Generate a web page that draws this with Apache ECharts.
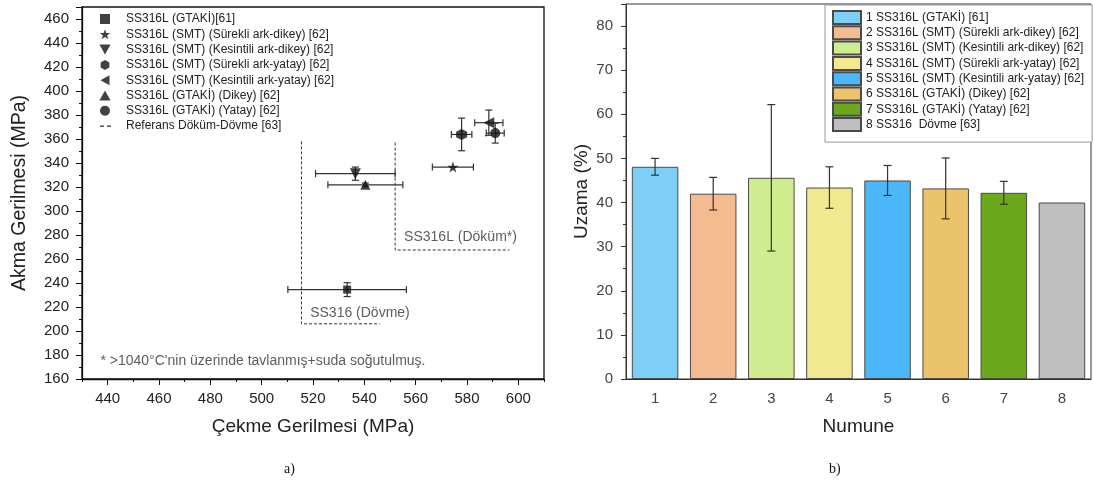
<!DOCTYPE html>
<html>
<head>
<meta charset="utf-8">
<script src="https://cdn.jsdelivr.net/npm/echarts@6/dist/echarts.min.js"></script>
<style>
html,body{margin:0;padding:0;background:#fff;}
#main{width:1093px;height:490px;}
</style>
</head>
<body>
<div id="main"></div>
<script>
// a) cekme - akma gerilmesi
var seriesNames = [
    'SS316L (GTAKİ)[61]',
    'SS316L (SMT) (Sürekli ark-dikey) [62]',
    'SS316L (SMT) (Kesintili ark-dikey) [62]',
    'SS316L (SMT) (Sürekli ark-yatay) [62]',
    'SS316L (SMT) (Kesintili ark-yatay) [62]',
    'SS316L (GTAKİ) (Dikey) [62]',
    'SS316L (GTAKİ) (Yatay) [62]'
];
var tensile    = [533.3, 574.5, 536.5, 577.9, 588.5, 540.4, 591.0];
var tensileErr = [23.1, 8.0, 15.5, 4.0, 5.5, 14.6, 3.5];
var yieldStr   = [234.5, 336.6, 331.1, 363.8, 373.6, 321.8, 364.9];
var yieldErr   = [5.8, 0, 5.5, 13.6, 10.5, 1.5, 8.3];

var refName  = 'Referans Döküm-Dövme [63]';
var dovmeRef = [[515.5, 358], [515.5, 206], [546, 206]];
var dokumRef = [[552, 357], [552, 267.5], [596.5, 267.5]];
var notes = [
    {name: 'SS316L (Döküm*)', value: [555.3, 278.4]},
    {name: 'SS316 (Dövme)', value: [518.7, 215.2]},
    {name: "* >1040°C'nin üzerinde tavlanmış+suda soğutulmuş.", value: [437, 174.5]}
];

// b) uzama
var sampleNo = ['1', '2', '3', '4', '5', '6', '7', '8'];
var sampleNames = [
    '1 SS316L (GTAKİ) [61]',
    '2 SS316L (SMT) (Sürekli ark-dikey) [62]',
    '3 SS316L (SMT) (Kesintili ark-dikey) [62]',
    '4 SS316L (SMT) (Sürekli ark-yatay) [62]',
    '5 SS316L (SMT) (Kesintili ark-yatay) [62]',
    '6 SS316L (GTAKİ) (Dikey) [62]',
    '7 SS316L (GTAKİ) (Yatay) [62]',
    '8 SS316  Dövme [63]'
];
var elongation = [48.1, 42.0, 45.6, 43.4, 45.0, 43.2, 42.2, 40.0];
var elongErr   = [1.9, 3.7, 16.6, 4.7, 3.4, 6.9, 2.6, 0];
var barColors  = ['#7ecff8', '#f5bb90', '#cfec8e', '#f1e88f', '#4bb6f9', '#eac36b', '#6ba81b', '#bfbfbf'];

var FONT = '"Liberation Sans", Arial, sans-serif';

var markers = [
    'path://M0,0h9v9h-9z',
    'path://M0,-10L2.35,-3.24L9.51,-3.09L3.8,1.24L5.88,8.09L0,4L-5.88,8.09L-3.8,1.24L-9.51,-3.09L-2.35,-3.24Z',
    'path://M0,0L10,0L5,9Z',
    'path://M5,0L9.33,2.5L9.33,7.5L5,10L0.67,7.5L0.67,2.5Z',
    'path://M0,5L9,0L9,10Z',
    'path://M5,0L10,9L0,9Z',
    'circle'
];
var markerSizes = [8, 11, 11, 11, 11, 10, 10];
var dashIcon = 'path://M0,0M32,10M11,4.4h4v1.2h-4zM18,4.4h4v1.2h-4z';

var chart = echarts.init(document.getElementById('main'));

function xyErrorBars(params, api) {
    var x = api.value(0), y = api.value(1), ex = api.value(2), ey = api.value(3);
    var c = api.coord([x, y]);
    var st = {stroke: '#333', lineWidth: 1.2};
    var cap = 3.5, kids = [];
    if (ex > 0) {
        var l = api.coord([x - ex, y])[0], r = api.coord([x + ex, y])[0];
        kids.push({type: 'line', shape: {x1: l, y1: c[1], x2: r, y2: c[1]}, style: st});
        kids.push({type: 'line', shape: {x1: l, y1: c[1] - cap, x2: l, y2: c[1] + cap}, style: st});
        kids.push({type: 'line', shape: {x1: r, y1: c[1] - cap, x2: r, y2: c[1] + cap}, style: st});
    }
    if (ey > 0) {
        var t = api.coord([x, y + ey])[1], b = api.coord([x, y - ey])[1];
        kids.push({type: 'line', shape: {x1: c[0], y1: t, x2: c[0], y2: b}, style: st});
        kids.push({type: 'line', shape: {x1: c[0] - cap, y1: t, x2: c[0] + cap, y2: t}, style: st});
        kids.push({type: 'line', shape: {x1: c[0] - cap, y1: b, x2: c[0] + cap, y2: b}, style: st});
    }
    return {type: 'group', children: kids};
}

function barErrorBars(params, api) {
    var i = api.value(0), v = api.value(1), e = api.value(2);
    if (!e) return null;
    var t = api.coord([i, v + e]), b = api.coord([i, v - e]);
    var st = {stroke: '#333', lineWidth: 1.2};
    var cap = 4;
    return {type: 'group', children: [
        {type: 'line', shape: {x1: t[0], y1: t[1], x2: b[0], y2: b[1]}, style: st},
        {type: 'line', shape: {x1: t[0] - cap, y1: t[1], x2: t[0] + cap, y2: t[1]}, style: st},
        {type: 'line', shape: {x1: b[0] - cap, y1: b[1], x2: b[0] + cap, y2: b[1]}, style: st}
    ]};
}

var series = [];
seriesNames.forEach(function (name, i) {
    series.push({
        name: name, type: 'scatter', xAxisIndex: 0, yAxisIndex: 0,
        symbol: markers[i], symbolSize: markerSizes[i],
        itemStyle: {color: '#111'}, z: 5,
        data: [[tensile[i], yieldStr[i]]]
    });
});
series.push({
    type: 'custom', name: 'errA', xAxisIndex: 0, yAxisIndex: 0,
    renderItem: xyErrorBars, encode: {x: 0, y: 1}, z: 4,
    data: tensile.map(function (t, i) { return [t, yieldStr[i], tensileErr[i], yieldErr[i]]; })
});
[dovmeRef, dokumRef].forEach(function (ref) {
    series.push({
        name: refName, type: 'line', xAxisIndex: 0, yAxisIndex: 0,
        symbol: 'none', silent: true,
        lineStyle: {color: '#333', width: 1, type: [3, 2]},
        itemStyle: {color: '#333'},
        data: ref
    });
});
series.push({
    name: 'notes', type: 'scatter', xAxisIndex: 0, yAxisIndex: 0,
    symbolSize: 1, itemStyle: {color: 'rgba(0,0,0,0)'}, silent: true,
    label: {
        show: true, position: 'right', distance: 0,
        formatter: '{b}', color: '#333', fontFamily: FONT, fontSize: 14
    },
    data: notes
});

sampleNames.forEach(function (name, i) {
    series.push({
        name: name, type: 'bar', xAxisIndex: 1, yAxisIndex: 1,
        stack: 'uzama', barWidth: '80%',
        itemStyle: {color: barColors[i], borderColor: '#4a4a4a', borderWidth: 1},
        data: elongation.map(function (v, j) { return j === i ? v : '-'; })
    });
});
series.push({
    type: 'custom', name: 'errB', xAxisIndex: 1, yAxisIndex: 1,
    renderItem: barErrorBars, encode: {x: 0, y: 1}, z: 10,
    data: elongation.map(function (v, i) { return [i, v, elongErr[i]]; })
});

var leftLegendData = seriesNames.map(function (n, i) {
    return {name: n, icon: markers[i]};
});
leftLegendData.push({name: refName, icon: dashIcon});

var option = {
    animation: false,
    textStyle: {fontFamily: FONT},
    grid: [
        {left: 82, right: 549, top: 7, bottom: 111, show: true, borderColor: '#111', borderWidth: 1.3},
        {left: 626, right: 2, top: 4, bottom: 111, show: true, borderColor: '#333', borderWidth: 1}
    ],
    legend: [{
        data: leftLegendData,
        orient: 'vertical', left: 89, top: 13, padding: 0,
        itemWidth: 32, itemHeight: 10, itemGap: 3.3,
        selectedMode: false,
        textStyle: {fontSize: 12, lineHeight: 12, color: '#222', fontFamily: FONT}
    }, {
        data: sampleNames.map(function (n) { return {name: n, icon: 'rect'}; }),
        orient: 'vertical', left: 825, top: 5, padding: [5, 8, 10, 7],
        itemWidth: 28, itemHeight: 13, itemGap: 0.3,
        selectedMode: false,
        backgroundColor: '#fff', borderColor: '#999', borderWidth: 1,
        textStyle: {fontSize: 12, lineHeight: 13, color: '#222', fontFamily: FONT}
    }],
    xAxis: [{
        type: 'value', gridIndex: 0, min: 430, max: 610, interval: 10,
        name: 'Çekme Gerilmesi (MPa)', nameLocation: 'middle', nameGap: 38,
        nameTextStyle: {fontSize: 19, color: '#222', fontFamily: FONT},
        axisLine: {show: true, lineStyle: {color: '#111', width: 1.3}},
        axisTick: {show: true, length: 3, lineStyle: {color: '#111'}},
        axisLabel: {
            fontSize: 15, color: '#222', margin: 12, fontFamily: FONT,
            formatter: function (v) { return v % 20 === 0 ? String(v) : ''; }
        },
        splitLine: {show: false}
    }, {
        type: 'category', gridIndex: 1, data: sampleNo,
        name: 'Numune', nameLocation: 'middle', nameGap: 38,
        nameTextStyle: {fontSize: 19, color: '#222', fontFamily: FONT},
        axisLine: {show: true, lineStyle: {color: '#333', width: 1}},
        axisTick: {show: false},
        axisLabel: {fontSize: 15, color: '#444', margin: 12, fontFamily: FONT}
    }, {
        type: 'value', gridIndex: 0, min: 430, max: 610, position: 'bottom',
        axisLine: {show: false}, axisLabel: {show: false}, splitLine: {show: false},
        axisTick: {show: true, length: 6, lineStyle: {color: '#111'},
            customValues: [440, 460, 480, 500, 520, 540, 560, 580, 600]}
    }],
    yAxis: [{
        type: 'value', gridIndex: 0, min: 160, max: 470, interval: 20,
        name: 'Akma Gerilmesi (MPa)', nameLocation: 'middle', nameGap: 52,
        nameTextStyle: {fontSize: 19.5, color: '#222', fontFamily: FONT},
        axisLine: {show: true, lineStyle: {color: '#111', width: 1.3}},
        axisTick: {show: true, length: 6, lineStyle: {color: '#111'}},
        minorTick: {show: true, splitNumber: 2, length: 3, lineStyle: {color: '#111'}},
        axisLabel: {fontSize: 15, color: '#222', margin: 13, showMaxLabel: false, fontFamily: FONT},
        splitLine: {show: false}
    }, {
        type: 'value', gridIndex: 1, min: 0, max: 85, interval: 10,
        name: 'Uzama (%)', nameLocation: 'middle', nameGap: 35,
        nameTextStyle: {fontSize: 19, color: '#222', fontFamily: FONT},
        axisLine: {show: true, lineStyle: {color: '#333', width: 1}},
        axisTick: {show: true, length: 5, lineStyle: {color: '#333'}},
        minorTick: {show: true, splitNumber: 2, length: 3, lineStyle: {color: '#333'}},
        axisLabel: {fontSize: 15, color: '#444', margin: 13, showMaxLabel: false, fontFamily: FONT},
        splitLine: {show: false}
    }],
    graphic: [
        {type: 'text', left: 284, top: 462, style: {text: 'a)', font: '14px "Liberation Serif"', fill: '#111'}},
        {type: 'text', left: 829, top: 462, style: {text: 'b)', font: '14px "Liberation Serif"', fill: '#111'}}
    ],
    series: series
};

chart.setOption(option);
</script>
</body>
</html>
